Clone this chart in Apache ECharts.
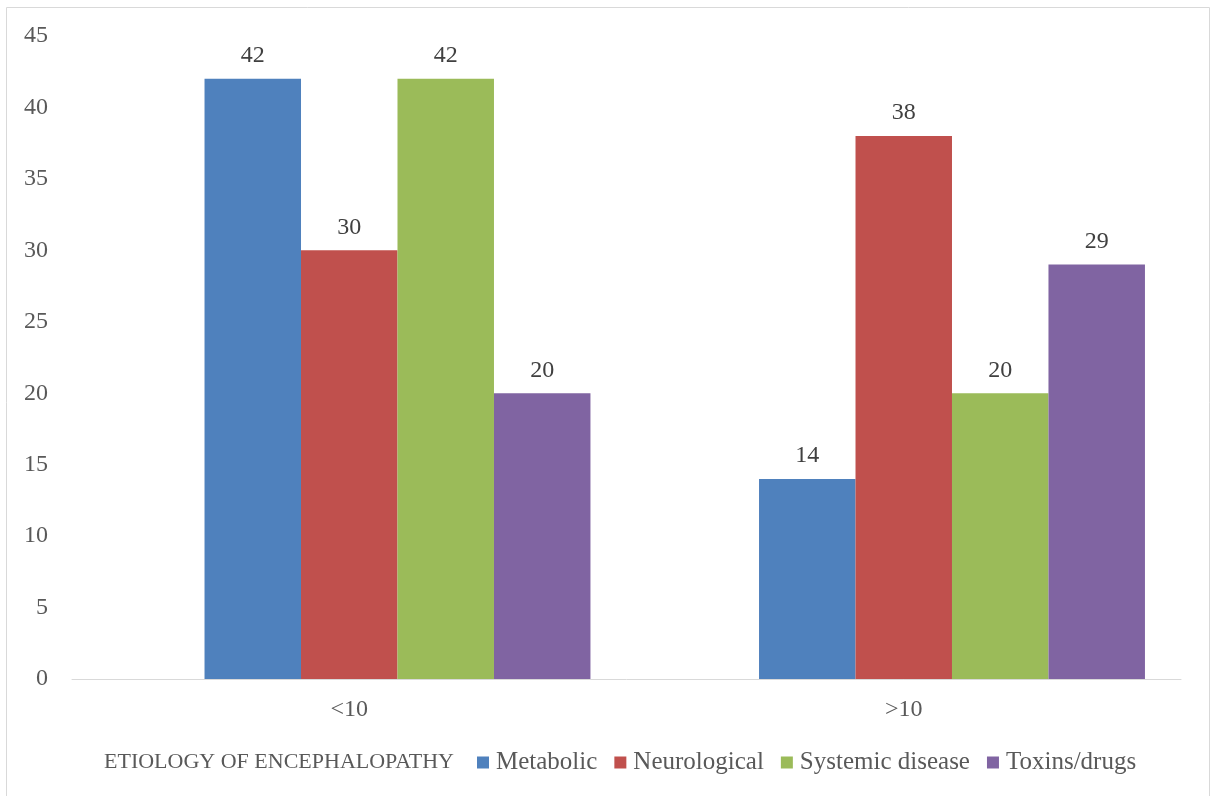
<!DOCTYPE html>
<html>
<head>
<meta charset="utf-8">
<script src="https://cdn.jsdelivr.net/npm/echarts@6/dist/echarts.min.js"></script>
<style>
  html, body { margin: 0; padding: 0; background: #fff; }
  #chart { width: 1216px; height: 796px; }
</style>
</head>
<body>
<div id="chart"></div>
<script>
var categories = ['<10', '>10'];
var seriesNames = ['Metabolic', 'Neurological', 'Systemic disease', 'Toxins/drugs'];
var metabolic = [42, 14];
var neurological = [30, 38];
var systemic = [42, 20];
var toxins = [20, 29];
// the legend header is an empty series in the original, it takes the first slot
var legendTitle = 'ETIOLOGY OF ENCEPHALOPATHY';
var titleValues = [null, null];

var font = 'Liberation Serif';
var textColor = '#595959';

function bar(name, data, color) {
    return {
        name: name,
        type: 'bar',
        data: data,
        barGap: '0%',
        barCategoryGap: '13%',
        itemStyle: { color: color },
        label: {
            show: true,
            position: 'top',
            distance: 11,
            color: '#404040',
            fontFamily: font,
            fontSize: 24
        }
    };
}

var chart = echarts.init(document.getElementById('chart'));
chart.setOption({
    animation: false,
    textStyle: { fontFamily: font },
    grid: { left: 72, right: 35, top: 36, bottom: 117, containLabel: false },
    graphic: [{
        type: 'rect',
        shape: { x: 6.5, y: 7.5, width: 1203, height: 800 },
        style: { fill: 'none', stroke: '#d9d9d9', lineWidth: 1 }
    }, {
        type: 'text',
        left: 104,
        top: 751,
        style: { text: legendTitle, fill: textColor, font: '22px "Liberation Serif"' }
    }],
    legend: {
        left: 472,
        top: 745,
        itemWidth: 12,
        itemHeight: 12,
        itemGap: 17,
        icon: 'rect',
        textStyle: { color: textColor, fontFamily: font, fontSize: 25, padding: [0, 0, 0, 2] },
        data: seriesNames
    },
    xAxis: {
        type: 'category',
        data: categories,
        axisLine: { lineStyle: { color: '#d9d9d9', width: 1 } },
        axisTick: { show: false },
        axisLabel: { color: textColor, fontFamily: font, fontSize: 24, margin: 19 }
    },
    yAxis: {
        type: 'value',
        min: 0,
        max: 45,
        interval: 5,
        axisLine: { show: false },
        axisTick: { show: false },
        splitLine: { show: false },
        axisLabel: { color: textColor, fontFamily: font, fontSize: 24, margin: 24 }
    },
    series: [
        bar(legendTitle, titleValues, 'transparent'),
        bar(seriesNames[0], metabolic, '#4f81bd'),
        bar(seriesNames[1], neurological, '#c0504d'),
        bar(seriesNames[2], systemic, '#9bbb59'),
        bar(seriesNames[3], toxins, '#8064a2')
    ]
});
</script>
</body>
</html>
